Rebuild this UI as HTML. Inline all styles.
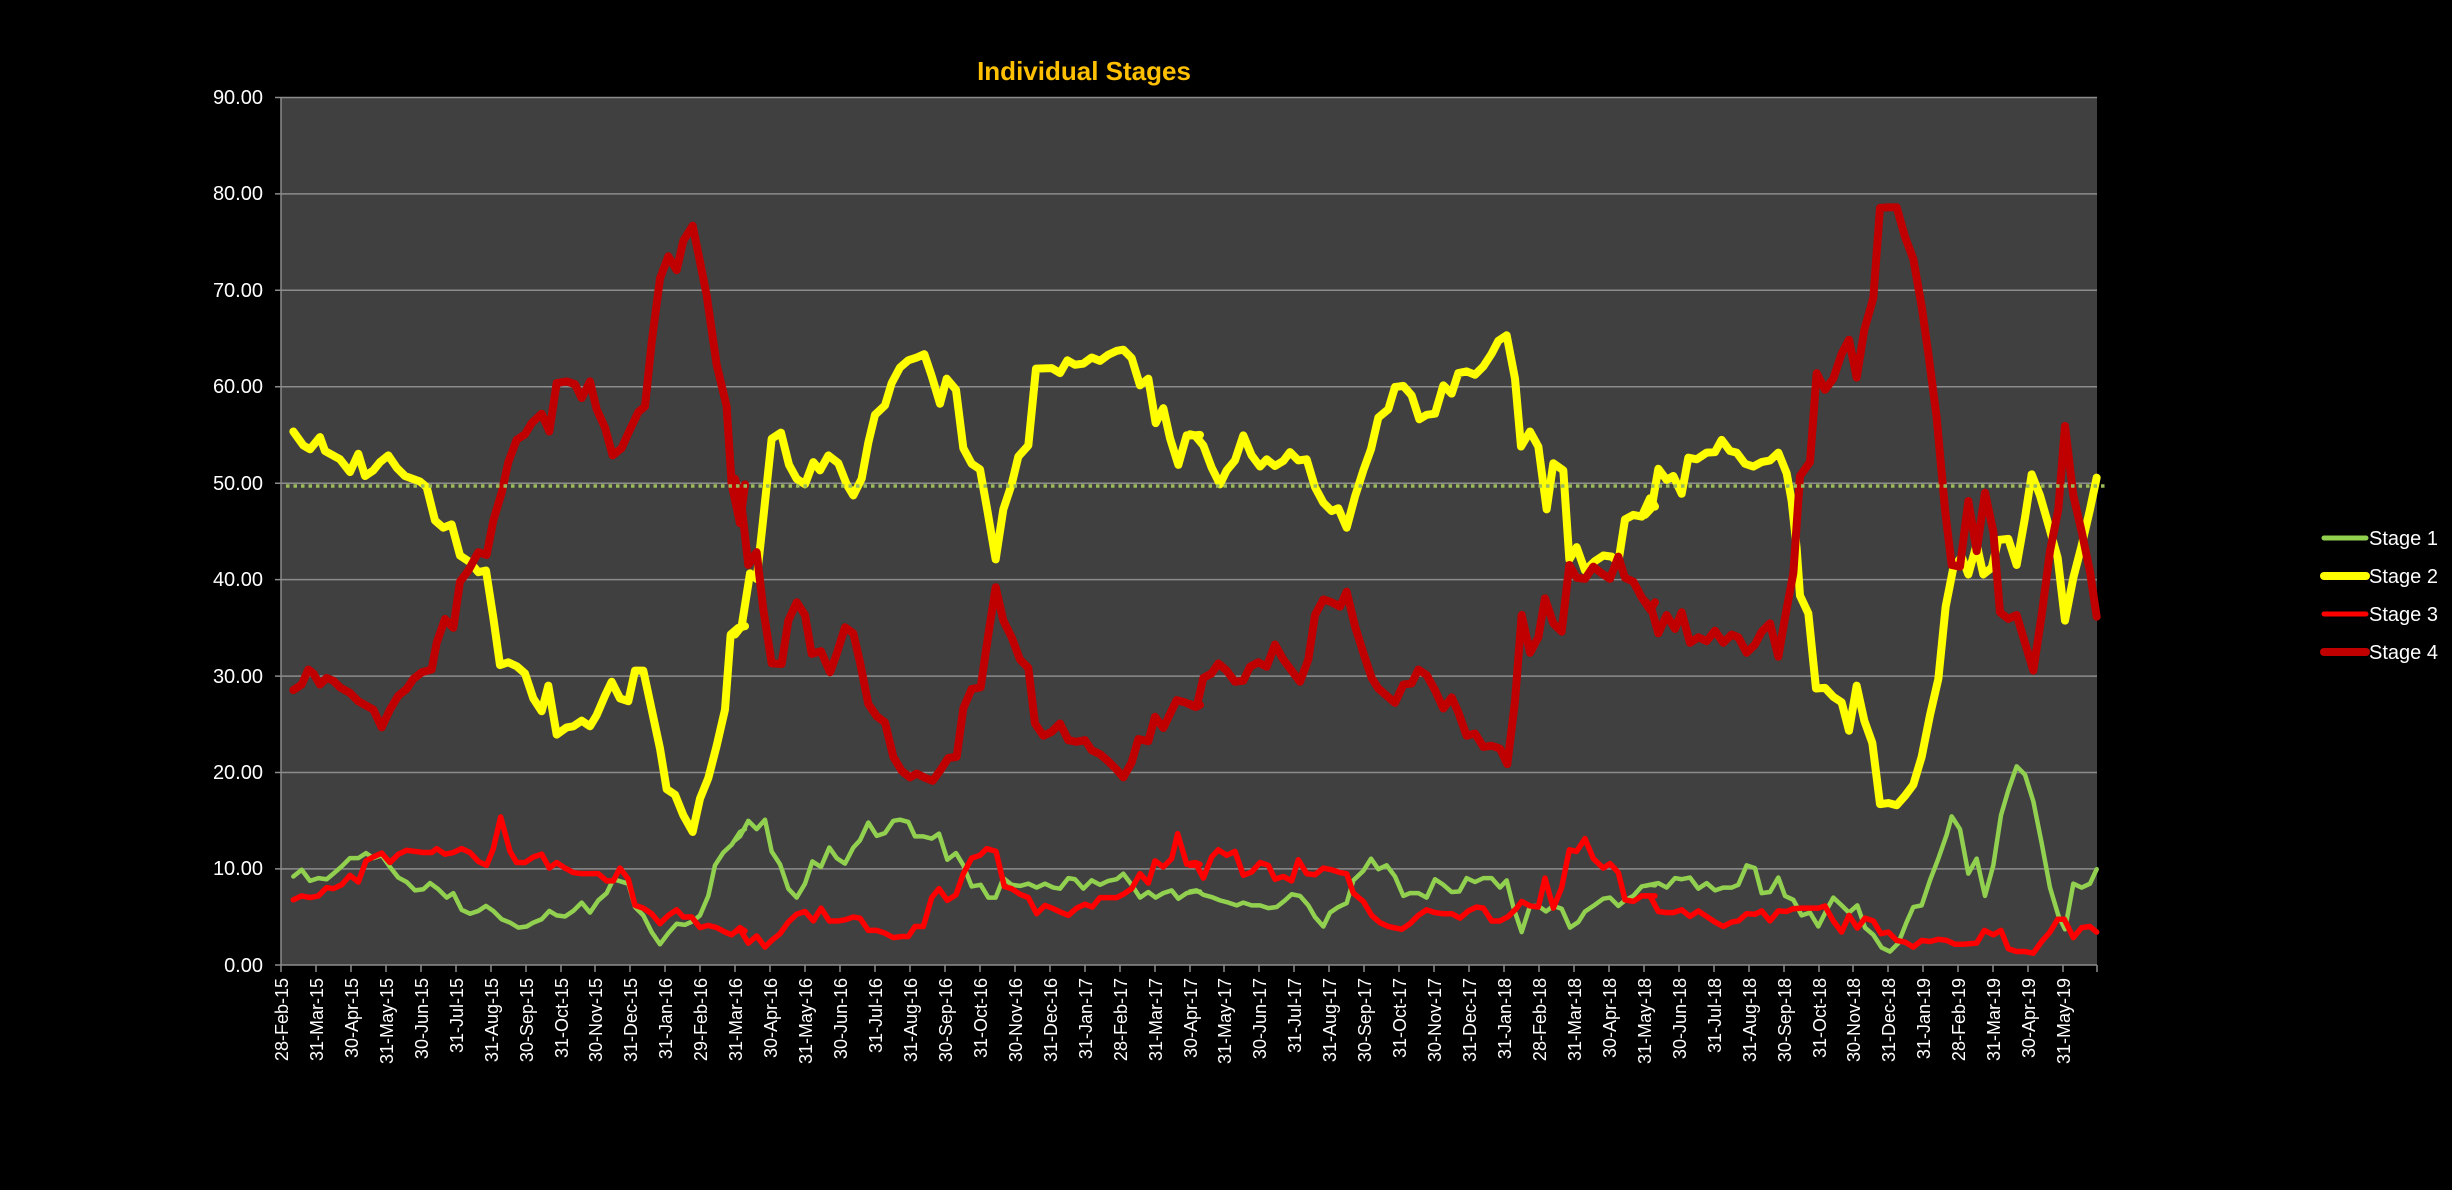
<!DOCTYPE html>
<html><head><meta charset="utf-8"><style>
html,body{margin:0;padding:0;background:#000;}
svg{display:block;}
text{font-family:"Liberation Sans",sans-serif;fill:#fff;}
polyline{vector-effect:non-scaling-stroke;}
</style></head><body>
<svg width="2452" height="1190" viewBox="0 0 2452 1190" xmlns="http://www.w3.org/2000/svg">
<rect x="0" y="0" width="2452" height="1190" fill="#000"/>
<rect x="281" y="97" width="1816" height="868" fill="#404040"/>
<g stroke="#8c8c8c" stroke-width="1.5">
<line x1="275" y1="97.5" x2="2097" y2="97.5"/>
<line x1="275" y1="193.9" x2="2097" y2="193.9"/>
<line x1="275" y1="290.3" x2="2097" y2="290.3"/>
<line x1="275" y1="386.8" x2="2097" y2="386.8"/>
<line x1="275" y1="483.2" x2="2097" y2="483.2"/>
<line x1="275" y1="579.6" x2="2097" y2="579.6"/>
<line x1="275" y1="676.1" x2="2097" y2="676.1"/>
<line x1="275" y1="772.5" x2="2097" y2="772.5"/>
<line x1="275" y1="868.9" x2="2097" y2="868.9"/>
<line x1="275" y1="965" x2="2097" y2="965"/>
<line x1="281" y1="97" x2="281" y2="965"/>
</g>
<g font-size="20" text-anchor="end">
<text x="263" y="104">90.00</text>
<text x="263" y="200">80.00</text>
<text x="263" y="297">70.00</text>
<text x="263" y="393">60.00</text>
<text x="263" y="490">50.00</text>
<text x="263" y="586">40.00</text>
<text x="263" y="683">30.00</text>
<text x="263" y="779">20.00</text>
<text x="263" y="875">10.00</text>
<text x="263" y="972">0.00</text>
</g>
<g stroke="#8c8c8c" stroke-width="1.5">
<path d="M281,965v7M316,965v7M351,965v7M386,965v7M421,965v7M456,965v7M491,965v7M526,965v7M561,965v7M595,965v7M630,965v7M665,965v7M700,965v7M735,965v7M770,965v7M805,965v7M840,965v7M875,965v7M910,965v7M945,965v7M980,965v7M1015,965v7M1050,965v7M1085,965v7M1120,965v7M1155,965v7M1190,965v7M1224,965v7M1259,965v7M1294,965v7M1329,965v7M1364,965v7M1399,965v7M1434,965v7M1469,965v7M1504,965v7M1539,965v7M1574,965v7M1609,965v7M1644,965v7M1679,965v7M1714,965v7M1749,965v7M1784,965v7M1819,965v7M1853,965v7M1888,965v7M1923,965v7M1958,965v7M1993,965v7M2028,965v7M2063,965v7M2097,965v7"/>
</g>
<g font-size="18" text-anchor="end">
<text transform="translate(288,978) rotate(-90)">28-Feb-15</text>
<text transform="translate(323,978) rotate(-90)">31-Mar-15</text>
<text transform="translate(358,978) rotate(-90)">30-Apr-15</text>
<text transform="translate(393,978) rotate(-90)">31-May-15</text>
<text transform="translate(428,978) rotate(-90)">30-Jun-15</text>
<text transform="translate(463,978) rotate(-90)">31-Jul-15</text>
<text transform="translate(498,978) rotate(-90)">31-Aug-15</text>
<text transform="translate(533,978) rotate(-90)">30-Sep-15</text>
<text transform="translate(568,978) rotate(-90)">31-Oct-15</text>
<text transform="translate(602,978) rotate(-90)">30-Nov-15</text>
<text transform="translate(637,978) rotate(-90)">31-Dec-15</text>
<text transform="translate(672,978) rotate(-90)">31-Jan-16</text>
<text transform="translate(707,978) rotate(-90)">29-Feb-16</text>
<text transform="translate(742,978) rotate(-90)">31-Mar-16</text>
<text transform="translate(777,978) rotate(-90)">30-Apr-16</text>
<text transform="translate(812,978) rotate(-90)">31-May-16</text>
<text transform="translate(847,978) rotate(-90)">30-Jun-16</text>
<text transform="translate(882,978) rotate(-90)">31-Jul-16</text>
<text transform="translate(917,978) rotate(-90)">31-Aug-16</text>
<text transform="translate(952,978) rotate(-90)">30-Sep-16</text>
<text transform="translate(987,978) rotate(-90)">31-Oct-16</text>
<text transform="translate(1022,978) rotate(-90)">30-Nov-16</text>
<text transform="translate(1057,978) rotate(-90)">31-Dec-16</text>
<text transform="translate(1092,978) rotate(-90)">31-Jan-17</text>
<text transform="translate(1127,978) rotate(-90)">28-Feb-17</text>
<text transform="translate(1162,978) rotate(-90)">31-Mar-17</text>
<text transform="translate(1197,978) rotate(-90)">30-Apr-17</text>
<text transform="translate(1231,978) rotate(-90)">31-May-17</text>
<text transform="translate(1266,978) rotate(-90)">30-Jun-17</text>
<text transform="translate(1301,978) rotate(-90)">31-Jul-17</text>
<text transform="translate(1336,978) rotate(-90)">31-Aug-17</text>
<text transform="translate(1371,978) rotate(-90)">30-Sep-17</text>
<text transform="translate(1406,978) rotate(-90)">31-Oct-17</text>
<text transform="translate(1441,978) rotate(-90)">30-Nov-17</text>
<text transform="translate(1476,978) rotate(-90)">31-Dec-17</text>
<text transform="translate(1511,978) rotate(-90)">31-Jan-18</text>
<text transform="translate(1546,978) rotate(-90)">28-Feb-18</text>
<text transform="translate(1581,978) rotate(-90)">31-Mar-18</text>
<text transform="translate(1616,978) rotate(-90)">30-Apr-18</text>
<text transform="translate(1651,978) rotate(-90)">31-May-18</text>
<text transform="translate(1686,978) rotate(-90)">30-Jun-18</text>
<text transform="translate(1721,978) rotate(-90)">31-Jul-18</text>
<text transform="translate(1756,978) rotate(-90)">31-Aug-18</text>
<text transform="translate(1791,978) rotate(-90)">30-Sep-18</text>
<text transform="translate(1826,978) rotate(-90)">31-Oct-18</text>
<text transform="translate(1860,978) rotate(-90)">30-Nov-18</text>
<text transform="translate(1895,978) rotate(-90)">31-Dec-18</text>
<text transform="translate(1930,978) rotate(-90)">31-Jan-19</text>
<text transform="translate(1965,978) rotate(-90)">28-Feb-19</text>
<text transform="translate(2000,978) rotate(-90)">31-Mar-19</text>
<text transform="translate(2035,978) rotate(-90)">30-Apr-19</text>
<text transform="translate(2070,978) rotate(-90)">31-May-19</text>
</g>
<g fill="none" stroke-linejoin="round" stroke-linecap="round">
<g stroke="#92D050" stroke-width="4.5">
<polyline transform="translate(280,95) scale(0.33333,0.55619)" points="40,1405 65,1393 90,1413 115,1408 140,1410 160,1400 185,1387 210,1372 235,1372 258,1363 280,1372 305,1367 330,1388 355,1407 380,1415 405,1430 430,1428 450,1417 475,1428 500,1443 520,1435 545,1465 570,1472 595,1467 618,1458 640,1467 665,1482 690,1488 715,1497 740,1495 760,1488 785,1482 808,1467 830,1475 855,1477 880,1467 905,1452 930,1470 955,1448 980,1435 1000,1410 1045,1418 1065,1460 1090,1475 1115,1505 1140,1527 1165,1507 1190,1490 1215,1492 1240,1485 1260,1475 1285,1440 1305,1385 1330,1362 1355,1348 1380,1325 1395,1320"/>
<polyline transform="translate(735,95) scale(0.33333,0.55619)" points="0,1340 15,1333 40,1305 65,1320 90,1303 110,1360 135,1383 160,1427 185,1443 210,1418 232,1378 258,1388 283,1353 305,1372 330,1382 355,1353 375,1340 400,1308 425,1332 450,1327 475,1305 495,1303 520,1307 540,1333 565,1333 590,1337 612,1328 637,1375 663,1363 685,1385 710,1423 737,1420 760,1443 782,1443 805,1408 830,1420 855,1422 880,1418 905,1425 930,1418 955,1425 975,1427 1000,1408 1020,1410 1045,1427 1070,1412 1095,1420 1120,1413 1145,1410 1165,1400 1190,1420 1215,1443 1240,1433 1262,1443 1285,1435 1310,1430 1330,1445 1355,1435 1380,1432 1395,1432"/>
<polyline transform="translate(1190,95) scale(0.33333,0.55619)" points="0,1432 20,1430 40,1438 65,1442 90,1448 115,1452 140,1457 160,1452 185,1457 210,1457 235,1462 260,1460 285,1448 305,1437 330,1440 355,1457 375,1478 400,1495 420,1470 445,1460 470,1453 490,1412 520,1395 543,1373 565,1392 590,1385 615,1405 640,1440 660,1435 685,1435 710,1443 735,1410 760,1420 785,1433 808,1432 830,1408 855,1415 880,1408 905,1408 930,1425 950,1412 970,1460 995,1505 1020,1458 1045,1458 1068,1468 1090,1458 1115,1463 1140,1497 1165,1487 1185,1468 1210,1458 1240,1445 1260,1443 1285,1458 1305,1448 1330,1440 1355,1423 1380,1420 1395,1421"/>
<polyline transform="translate(1645,95) scale(0.33333,0.55619)" points="0,1422 15,1420 40,1417 65,1425 90,1408 110,1410 135,1407 160,1427 185,1417 210,1430 235,1425 260,1425 280,1420 305,1385 330,1390 350,1435 375,1433 400,1407 420,1440 445,1447 470,1475 495,1470 520,1495 545,1465 565,1443 590,1457 612,1470 637,1457 660,1497 685,1510 710,1533 735,1540 760,1525 785,1487 805,1460 830,1457 855,1412 880,1373 905,1330 920,1297 945,1320 970,1400 995,1373 1020,1440 1045,1385 1068,1295 1090,1250 1115,1207 1140,1222 1165,1270 1190,1345 1215,1425 1240,1475 1260,1500 1285,1418 1310,1425 1335,1418 1355,1392"/>
</g>
<g stroke="#FFFF00" stroke-width="8">
<polyline transform="translate(280,95) scale(0.33333,0.55619)" points="40,605 70,630 90,637 120,615 135,640 180,655 210,678 235,645 255,685 280,675 300,660 325,648 350,670 375,685 420,695 440,705 465,765 490,778 515,772 540,828 570,840 595,858 618,855 640,940 660,1025 685,1020 710,1027 735,1040 760,1085 785,1108 805,1062 830,1150 860,1137 880,1135 905,1125 930,1135 950,1115 975,1080 995,1055 1020,1085 1045,1090 1065,1035 1090,1035 1115,1105 1140,1175 1160,1248 1185,1258 1210,1295 1238,1325 1260,1265 1285,1228 1310,1170 1335,1105 1352,970 1375,958 1395,955"/>
<polyline transform="translate(735,95) scale(0.33333,0.55619)" points="0,970 20,955 45,860 65,870 85,760 110,618 138,607 162,665 185,690 210,700 235,660 255,675 280,648 310,662 335,700 355,720 380,690 400,625 420,575 450,558 470,518 495,490 520,477 545,472 568,466 590,505 615,555 635,510 663,530 685,635 710,663 735,673 758,750 782,835 805,745 830,700 850,650 880,630 903,492 950,491 975,500 997,477 1020,485 1045,483 1070,472 1095,478 1120,467 1145,460 1165,458 1190,473 1215,522 1240,510 1262,590 1285,563 1305,617 1330,665 1355,612 1380,612 1395,611"/>
<polyline transform="translate(1190,95) scale(0.33333,0.55619)" points="0,610 15,612 40,630 65,670 90,700 110,675 135,657 160,612 185,648 210,668 230,655 255,667 280,658 300,642 325,657 350,655 375,705 400,733 425,748 445,743 470,778 495,722 520,675 543,637 565,580 595,565 615,525 640,523 665,540 688,583 710,575 735,573 760,522 785,537 805,500 830,497 855,503 880,488 905,465 925,442 950,432 975,510 993,632 1020,605 1045,632 1070,745 1090,662 1120,675 1138,835 1160,813 1185,855 1215,838 1240,828 1265,830 1285,840 1305,763 1330,755 1355,758 1380,725 1395,740"/>
<polyline transform="translate(1645,95) scale(0.33333,0.55619)" points="0,755 20,742 40,672 65,692 85,685 110,717 130,652 155,655 185,643 210,642 230,620 255,640 275,643 300,663 325,668 350,660 375,657 400,643 425,680 440,730 455,815 465,900 490,932 513,1067 540,1066 565,1082 590,1092 612,1143 635,1062 658,1125 682,1165 705,1275 730,1273 755,1277 780,1260 805,1240 830,1190 855,1115 880,1050 902,920 925,850 950,830 970,862 995,808 1015,862 1040,850 1060,800 1090,798 1115,845 1140,760 1160,682 1185,720 1210,772 1238,832 1260,945 1285,868 1310,810 1335,745 1355,688"/>
</g>
<g stroke="#FF0000" stroke-width="5.5">
<polyline transform="translate(280,95) scale(0.33333,0.55619)" points="40,1447 65,1440 90,1443 115,1440 140,1425 160,1427 185,1420 210,1403 235,1415 258,1377 280,1370 305,1363 330,1380 355,1365 380,1358 405,1360 430,1362 455,1362 470,1355 495,1365 520,1362 545,1355 570,1362 595,1378 620,1385 640,1355 662,1298 690,1360 710,1380 735,1380 760,1370 785,1365 808,1390 830,1380 855,1390 880,1398 905,1400 930,1400 955,1400 980,1413 1000,1413 1020,1390 1045,1410 1065,1457 1090,1462 1115,1472 1140,1490 1165,1475 1190,1465 1210,1478 1235,1478 1260,1497 1285,1493 1310,1497 1335,1505 1355,1510 1380,1497 1395,1503"/>
<polyline transform="translate(735,95) scale(0.33333,0.55619)" points="0,1505 15,1500 40,1525 65,1512 90,1532 110,1520 135,1508 160,1487 185,1473 210,1468 235,1485 258,1462 283,1485 310,1485 330,1483 355,1478 375,1480 400,1502 425,1502 450,1507 475,1515 500,1513 520,1513 540,1495 565,1495 590,1443 612,1427 637,1448 663,1438 685,1400 710,1372 735,1367 755,1355 783,1360 808,1423 830,1427 855,1437 880,1443 905,1472 930,1457 955,1463 980,1470 1000,1475 1025,1462 1050,1455 1072,1460 1095,1443 1120,1443 1145,1443 1165,1437 1190,1427 1215,1400 1240,1417 1260,1377 1285,1388 1310,1373 1328,1328 1355,1383 1380,1380 1395,1383"/>
<polyline transform="translate(1190,95) scale(0.33333,0.55619)" points="0,1385 20,1385 40,1408 65,1370 85,1357 110,1367 135,1360 160,1403 185,1397 210,1380 235,1385 255,1410 280,1405 305,1413 325,1375 350,1400 375,1402 400,1390 425,1393 450,1398 470,1400 490,1435 520,1450 545,1475 570,1488 595,1495 635,1500 660,1490 685,1475 710,1465 735,1470 760,1472 785,1472 810,1480 835,1467 860,1460 880,1462 905,1485 930,1485 955,1477 980,1462 995,1450 1020,1458 1045,1460 1065,1408 1090,1462 1115,1425 1138,1357 1160,1360 1185,1337 1210,1373 1240,1390 1260,1382 1285,1398 1305,1447 1330,1450 1355,1440 1380,1440 1395,1440"/>
<polyline transform="translate(1645,95) scale(0.33333,0.55619)" points="0,1440 15,1440 40,1468 65,1470 85,1470 110,1465 135,1477 160,1467 185,1477 210,1487 235,1495 260,1487 280,1485 305,1472 330,1473 350,1467 375,1485 400,1467 425,1468 445,1463 470,1462 495,1462 520,1462 540,1458 565,1485 590,1505 612,1475 637,1498 660,1480 685,1485 708,1508 730,1505 755,1520 780,1523 805,1532 830,1520 855,1522 880,1518 905,1520 930,1527 955,1527 995,1525 1018,1502 1045,1510 1068,1502 1090,1535 1115,1540 1140,1540 1165,1543 1190,1522 1215,1505 1238,1482 1258,1482 1285,1515 1310,1497 1335,1495 1355,1505"/>
</g>
<g stroke="#C00000" stroke-width="8">
<polyline transform="translate(280,95) scale(0.33333,0.55619)" points="40,1070 65,1060 85,1033 100,1040 120,1060 140,1048 160,1053 180,1065 210,1075 235,1090 280,1105 305,1137 330,1105 355,1080 380,1068 400,1050 425,1038 455,1033 470,985 495,942 520,958 540,875 565,855 595,822 620,827 640,765 665,715 685,660 710,620 735,610 755,590 785,573 808,605 830,518 860,515 885,520 905,545 930,515 950,565 975,598 998,648 1025,635 1045,608 1075,570 1095,560 1115,445 1140,330 1165,290 1190,315 1210,262 1238,235 1260,300 1280,360 1310,485 1340,560 1355,700 1380,770 1395,700"/>
<polyline transform="translate(735,95) scale(0.33333,0.55619)" points="0,690 20,740 40,845 65,822 85,925 110,1022 140,1023 160,945 185,912 210,935 230,1005 258,1000 285,1038 305,1005 330,957 355,968 375,1020 400,1095 425,1117 450,1128 475,1190 500,1215 525,1227 545,1220 568,1227 593,1233 615,1215 640,1192 665,1190 685,1103 710,1068 737,1065 760,970 782,885 805,945 830,975 855,1015 880,1030 900,1130 925,1152 950,1145 975,1130 1000,1160 1025,1163 1050,1160 1070,1178 1095,1185 1120,1198 1145,1213 1165,1227 1190,1200 1210,1158 1240,1162 1260,1118 1285,1138 1325,1088 1350,1092 1380,1100 1395,1097"/>
<polyline transform="translate(1190,95) scale(0.33333,0.55619)" points="0,1095 20,1100 40,1048 65,1040 85,1022 110,1035 135,1055 160,1053 180,1028 205,1020 230,1028 255,988 280,1015 305,1035 330,1055 355,1015 375,935 400,907 425,912 450,920 470,893 495,955 520,1003 545,1048 565,1067 590,1080 615,1093 640,1060 665,1058 685,1033 710,1043 735,1070 760,1103 785,1083 805,1110 830,1152 855,1148 880,1172 905,1170 930,1175 952,1203 975,1090 995,935 1020,1003 1045,975 1065,905 1090,950 1115,965 1138,845 1160,868 1185,870 1210,848 1235,860 1260,870 1285,830 1305,868 1330,875 1355,903 1380,925 1395,912"/>
<polyline transform="translate(1645,95) scale(0.33333,0.55619)" points="0,910 20,925 40,968 65,935 90,960 110,930 135,985 160,975 185,982 210,963 235,985 260,970 280,975 305,1003 330,988 350,965 375,950 400,1010 420,940 445,860 465,685 495,660 515,500 540,530 565,510 590,465 612,440 635,508 658,422 685,365 705,203 730,202 755,202 780,255 805,295 830,380 850,465 875,580 900,745 920,845 945,848 970,730 995,820 1020,715 1045,785 1065,930 1090,942 1115,935 1140,985 1165,1035 1190,935 1215,820 1240,745 1260,595 1285,720 1310,785 1335,857 1355,938"/>
</g>
</g>
<line x1="286" y1="486" x2="2106" y2="486" stroke="#9BBB59" stroke-width="3.5" stroke-dasharray="3.5,4"/>
<text x="1084" y="80" text-anchor="middle" font-size="26" font-weight="bold" style="fill:#FFC000">Individual Stages</text>
<g stroke-linecap="round">
<line x1="2324" y1="538" x2="2366" y2="538" stroke="#92D050" stroke-width="5"/>
<line x1="2324" y1="576" x2="2366" y2="576" stroke="#FFFF00" stroke-width="8"/>
<line x1="2324" y1="614" x2="2366" y2="614" stroke="#FF0000" stroke-width="5"/>
<line x1="2324" y1="652" x2="2366" y2="652" stroke="#C00000" stroke-width="8"/>
</g>
<g font-size="20">
<text x="2369" y="545">Stage 1</text>
<text x="2369" y="583">Stage 2</text>
<text x="2369" y="621">Stage 3</text>
<text x="2369" y="659">Stage 4</text>
</g>
</svg>
</body></html>
